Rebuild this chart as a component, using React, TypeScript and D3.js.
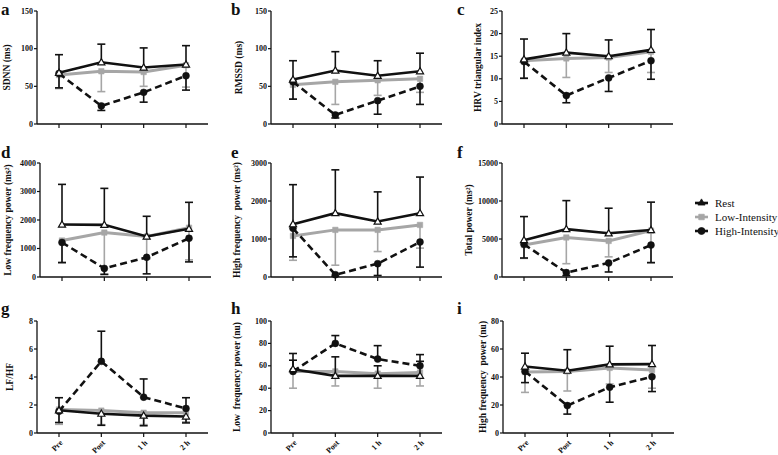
import React from 'react';
import * as d3 from 'd3';

const times = ['Pre', 'Post', '1 h', '2 h'];

// a: SDNN
const sdnnRest = [68, 82, 75, 79];
const sdnnRestErr = [92, 106, 101, 104];
const sdnnLow = [65, 70, 69, 78];
const sdnnLowErr = [47, 43, 50, 49];
const sdnnHigh = [67, 24, 42, 64];
const sdnnHighErr = [48, 18, 29, 45];
// b: RMSSD
const rmssdRest = [59, 71, 64, 70];
const rmssdRestErr = [84, 96, 84, 94];
const rmssdLow = [52, 56, 58, 60];
const rmssdLowErr = [33, 26, 38, 42];
const rmssdHigh = [56, 12, 31, 50];
const rmssdHighErr = [33, 8, 13, 26];
// c: HRV triangular index
const triRest = [14.3, 15.8, 15.0, 16.4];
const triRestErr = [18.8, 20.0, 18.6, 20.9];
const triLow = [14.0, 14.5, 14.7, 16.0];
const triLowErr = [10.2, 10.3, 11.4, 11.4];
const triHigh = [13.8, 6.3, 10.2, 14.0];
const triHighErr = [10.1, 4.7, 7.2, 9.9];
// d: LF power
const lfRest = [1840, 1830, 1420, 1690];
const lfRestErr = [3250, 3110, 2130, 2620];
const lfLow = [1280, 1560, 1420, 1730];
const lfLowErr = [490, 100, 640, 600];
const lfHigh = [1210, 300, 690, 1360];
const lfHighErr = [510, 90, 110, 530];
// e: HF power
const hfRest = [1390, 1680, 1460, 1680];
const hfRestErr = [2430, 2820, 2240, 2630];
const hfLow = [1080, 1240, 1240, 1370];
const hfLowErr = [440, 310, 670, 760];
const hfHigh = [1280, 60, 350, 920];
const hfHighErr = [530, 20, 40, 260];
// f: Total power
const tpRest = [4850, 6300, 5750, 6180];
const tpRestErr = [7950, 10050, 9050, 9850];
const tpLow = [4200, 5200, 4750, 6100];
const tpLowErr = [2450, 1750, 2650, 1850];
const tpHigh = [4300, 580, 1850, 4200];
const tpHighErr = [2500, 200, 660, 1900];
// g: LF/HF
const ratioRest = [1.62, 1.38, 1.24, 1.18];
const ratioRestErr = [0.75, 0.55, 0.52, 0.72];
const ratioLow = [1.68, 1.6, 1.45, 1.45];
const ratioLowErr = [0.62, 0.6, 0.6, 0.8];
const ratioHigh = [1.55, 5.12, 2.56, 1.75];
const ratioHighErr = [2.52, 7.27, 3.86, 2.52];
// h: LF nu
const lfnuRest = [57, 51, 51, 51];
const lfnuRestErr = [65, 68, 60, 64];
const lfnuLow = [55, 55, 53, 54];
const lfnuLowErr = [40, 42, 40, 42];
const lfnuHigh = [55, 80, 66, 60];
const lfnuHighErr = [71, 87, 78, 70];
// i: HF nu
const hfnuRest = [47.5, 44.5, 49, 49.2];
const hfnuRestErr = [57, 59.5, 62, 62.5];
const hfnuLow = [43.5, 44, 46.5, 45];
const hfnuLowErr = [29, 30, 35, 32];
const hfnuHigh = [44, 19.6, 32.7, 40.2];
const hfnuHighErr = [36, 13.5, 22, 29.6];

const legendLabels = ['Rest', 'Low-Intensity', 'High-Intensity'];

const FONT = '"Liberation Serif", "Times New Roman", Times, serif';
const BLACK = '#111';
const GRAY = '#a6a6a6';
const boldText = { fontFamily: FONT, fontWeight: 700 as const };

type PanelProps = {
  letter: string; title: string; ax: number; top: number; bottom: number;
  max: number; step: number; labelX: number; letterX: number; letterY: number;
  showX: boolean;
  rest: number[]; restErr: number[]; low: number[]; lowErr: number[];
  high: number[]; highErr: number[];
};

const triPath = d3.symbol(d3.symbolTriangle, 22)()!;
const sqPath = d3.symbol(d3.symbolSquare, 30)()!;
const circPath = d3.symbol(d3.symbolCircle, 38)()!;

function Panel(p: PanelProps) {
  const x = d3.scalePoint<string>().domain(times).range([p.ax + 22, p.ax + 149]);
  const y = d3.scaleLinear().domain([0, p.max]).range([p.bottom, p.top]);
  const ticks = d3.range(0, p.max + p.step / 2, p.step);
  const line = d3.line<number>().x((_, i) => x(times[i]) as number).y((d) => y(d));

  const series = [
    { vals: p.low, errs: p.lowErr, color: GRAY, width: 3, dash: undefined as string | undefined, marker: sqPath, fill: GRAY, sw: 0.5 },
    { vals: p.high, errs: p.highErr, color: BLACK, width: 2.6, dash: '7,4', marker: circPath, fill: BLACK, sw: 0.5 },
    { vals: p.rest, errs: p.restErr, color: BLACK, width: 2.6, dash: undefined, marker: triPath, fill: '#fff', sw: 1.2 },
  ];

  const midY = (p.top + p.bottom) / 2;
  return (
    <g>
      <text x={p.letterX} y={p.letterY} style={{ ...boldText, fontSize: '17px', whiteSpace: 'pre' }} fill={BLACK}>{p.letter}</text>
      <text transform={`translate(${p.labelX},${midY}) rotate(-90)`} textAnchor="middle" dominantBaseline="middle"
        style={{ ...boldText, fontSize: '9.5px', whiteSpace: 'pre' }} fill={BLACK}>{p.title}</text>
      <line x1={p.ax} x2={p.ax} y1={p.top} y2={p.bottom} stroke={BLACK} strokeWidth={1.3} />
      <line x1={p.ax} x2={p.ax + 171} y1={p.bottom} y2={p.bottom} stroke={BLACK} strokeWidth={1.3} />
      {ticks.map((t) => (
        <g key={t}>
          <line x1={p.ax - 3} x2={p.ax} y1={y(t)} y2={y(t)} stroke={BLACK} strokeWidth={1.2} />
          <text x={p.ax - 4} y={y(t)} dy="0.33em" textAnchor="end" style={{ ...boldText, fontSize: '8px' }} fill={BLACK}>{t}</text>
        </g>
      ))}
      {times.map((t) => (
        <g key={t}>
          <line x1={x(t)} x2={x(t)} y1={p.bottom} y2={p.bottom + 4} stroke={BLACK} strokeWidth={1.2} />
          {p.showX && (
            <text transform={`translate(${(x(t) as number) + 3},${p.bottom + 9}) rotate(-45)`} textAnchor="end"
              dominantBaseline="middle" style={{ ...boldText, fontSize: '8px' }} fill={BLACK}>{t}</text>
          )}
        </g>
      ))}
      {series.map((s, si) => (
        <g key={si}>
          {s.vals.map((v, i) => {
            const e = s.errs[i];
            const cx = x(times[i]) as number;
            return (
              <g key={i}>
                <line x1={cx} x2={cx} y1={y(v)} y2={y(e)} stroke={s.color} strokeWidth={1.6} />
                <line x1={cx - 4} x2={cx + 4} y1={y(e)} y2={y(e)} stroke={s.color} strokeWidth={1.6} />
              </g>
            );
          })}
          <path d={line(s.vals) || ''} fill="none" stroke={s.color} strokeWidth={s.width} strokeDasharray={s.dash} />
          {s.vals.map((v, i) => (
            <path key={i} d={s.marker} transform={`translate(${x(times[i])},${y(v) + (si === 2 ? 0.5 : 0)})`} fill={s.fill}
              stroke={s.color} strokeWidth={s.sw} />
          ))}
        </g>
      ))}
    </g>
  );
}

function Legend() {
  const items = [
    { color: BLACK, marker: triPath, fill: BLACK },
    { color: GRAY, marker: sqPath, fill: GRAY },
    { color: BLACK, marker: circPath, fill: BLACK },
  ];
  return (
    <g>
      {items.map((it, i) => {
        const yy = 203 + i * 14;
        return (
          <g key={i}>
            <line x1={695} x2={708} y1={yy} y2={yy} stroke={it.color} strokeWidth={2.6} />
            <path d={it.marker} transform={`translate(701.5,${yy})`} fill={it.fill} stroke={it.color} strokeWidth={0.8} />
            <text x={715} y={yy} dy="0.35em" style={{ fontFamily: FONT, fontSize: '11px', fontWeight: 400 }} fill={BLACK}>{legendLabels[i]}</text>
          </g>
        );
      })}
    </g>
  );
}

export default function App() {
  const rows = [
    { top: 11, bottom: 124, letterY: 14.5 },
    { top: 163, bottom: 277, letterY: 158 },
    { top: 321, bottom: 433, letterY: 314 },
  ];
  return (
    <svg width={778} height={455} style={{ position: 'absolute', left: 0, top: 0, background: '#fff' }}>
      <rect width={778} height={455} fill="#fff" />
      <Panel letter="a" title="SDNN (ms)" ax={37} {...rows[0]} max={150} step={50} labelX={8} letterX={1} showX={false}
        rest={sdnnRest} restErr={sdnnRestErr} low={sdnnLow} lowErr={sdnnLowErr} high={sdnnHigh} highErr={sdnnHighErr} />
      <Panel letter="b" title="RMSSD (ms)" ax={271} {...rows[0]} max={150} step={50} labelX={240} letterX={231} showX={false}
        rest={rmssdRest} restErr={rmssdRestErr} low={rmssdLow} lowErr={rmssdLowErr} high={rmssdHigh} highErr={rmssdHighErr} />
      <Panel letter="c" title="HRV triangular index" ax={502} {...rows[0]} max={25} step={5} labelX={479} letterX={457} showX={false}
        rest={triRest} restErr={triRestErr} low={triLow} lowErr={triLowErr} high={triHigh} highErr={triHighErr} />
      <Panel letter="d" title="Low frequency power (ms²)" ax={40} {...rows[1]} max={4000} step={1000} labelX={9} letterX={1} showX={false}
        rest={lfRest} restErr={lfRestErr} low={lfLow} lowErr={lfLowErr} high={lfHigh} highErr={lfHighErr} />
      <Panel letter="e" title="High frequency  power (ms²)" ax={271} {...rows[1]} max={3000} step={1000} labelX={238} letterX={231} showX={false}
        rest={hfRest} restErr={hfRestErr} low={hfLow} lowErr={hfLowErr} high={hfHigh} highErr={hfHighErr} />
      <Panel letter="f" title="Total power (ms²)" ax={502} {...rows[1]} max={15000} step={5000} labelX={470} letterX={457} showX={false}
        rest={tpRest} restErr={tpRestErr} low={tpLow} lowErr={tpLowErr} high={tpHigh} highErr={tpHighErr} />
      <Panel letter="g" title="LF/HF" ax={37} {...rows[2]} max={8} step={2} labelX={11} letterX={1} showX={true}
        rest={ratioRest} restErr={ratioRestErr} low={ratioLow} lowErr={ratioLowErr} high={ratioHigh} highErr={ratioHighErr} />
      <Panel letter="h" title="Low  frequency power (nu)" ax={271} {...rows[2]} max={100} step={20} labelX={238} letterX={231} showX={true}
        rest={lfnuRest} restErr={lfnuRestErr} low={lfnuLow} lowErr={lfnuLowErr} high={lfnuHigh} highErr={lfnuHighErr} />
      <Panel letter="i" title="High frequency  power (nu)" ax={503} {...rows[2]} max={80} step={20} labelX={484} letterX={457} showX={true}
        rest={hfnuRest} restErr={hfnuRestErr} low={hfnuLow} lowErr={hfnuLowErr} high={hfnuHigh} highErr={hfnuHighErr} />
      <Legend />
    </svg>
  );
}
